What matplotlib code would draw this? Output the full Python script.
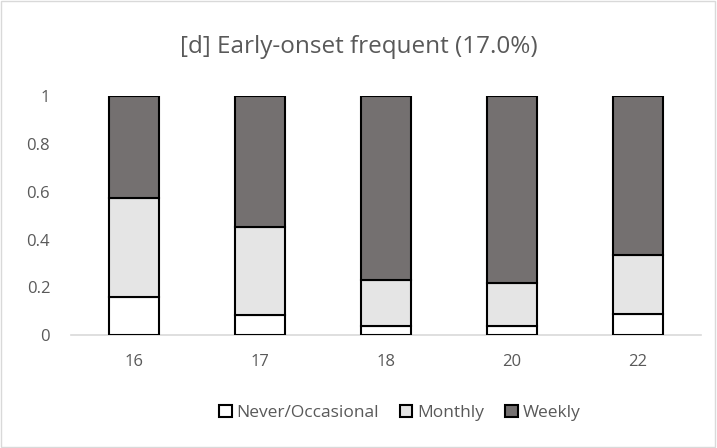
import matplotlib
matplotlib.use("Agg")
import matplotlib.pyplot as plt
from matplotlib.patches import Rectangle

ages = ["16", "17", "18", "20", "22"]
never = [0.158, 0.085, 0.038, 0.039, 0.087]
monthly = [0.417, 0.366, 0.194, 0.178, 0.248]
weekly = [1 - n - m for n, m in zip(never, monthly)]

plt.rcParams['font.family'] = ['Open Sans', 'DejaVu Sans']
grey_txt = '#595959'

fig = plt.figure(figsize=(7.17, 4.48), dpi=100)
ax = fig.add_axes([71 / 717, 1 - 335 / 448, 630 / 717, (335 - 96.3) / 448])

x = range(len(ages))
kw = dict(width=0.4, edgecolor='black', linewidth=1.5)
ax.bar(x, never, color='white', label='Never/Occasional', **kw)
ax.bar(x, monthly, bottom=never, color='#e5e5e5', label='Monthly', **kw)
bottom2 = [n + m for n, m in zip(never, monthly)]
ax.bar(x, weekly, bottom=bottom2, color='#747070', label='Weekly', **kw)

ax.set_xlim(-0.5, len(ages) - 0.5)
ax.set_ylim(0, 1)
ax.set_yticks([0, 0.2, 0.4, 0.6, 0.8, 1])
ax.set_yticklabels(['0', '0.2', '0.4', '0.6', '0.8', '1'])
ax.set_xticks(list(x))
ax.set_xticklabels(ages)
ax.tick_params(length=0, labelsize=12, colors=grey_txt)
ax.tick_params(axis='x', pad=14)
ax.tick_params(axis='y', pad=15)
for s in ['top', 'right', 'left']:
    ax.spines[s].set_visible(False)
ax.spines['bottom'].set_color('#d9d9d9')
ax.spines['bottom'].set_linewidth(1.2)
ax.spines['bottom'].set_zorder(0)

fig.text(0.5, 1 - 47 / 448, '[d] Early-onset frequent (17.0%)', ha='center', va='center',
         fontsize=17.5, color=grey_txt)

fig.legend(loc='center', bbox_to_anchor=(400 / 717, 1 - 413 / 448), ncol=3, frameon=False,
           fontsize=12.5, labelcolor=grey_txt, handlelength=0.7, handleheight=0.7,
           handletextpad=0.3, columnspacing=1.2)

fig.patches.append(Rectangle((0.002, 0.003), 0.995, 0.994, transform=fig.transFigure,
                             fill=False, edgecolor='#d9d9d9', linewidth=1))

fig.savefig('out.png', dpi=100)
